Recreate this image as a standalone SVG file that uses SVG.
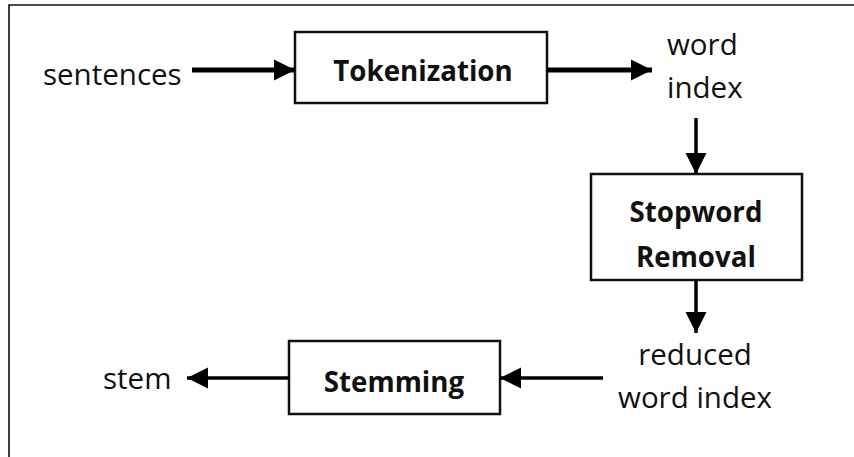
<svg xmlns="http://www.w3.org/2000/svg" width="854" height="457" viewBox="0 0 854 457">
<defs>
<style>
.box{fill:#fff;stroke:#111;stroke-width:2.5}
.lbl{font-family:"Open Sans","Liberation Sans",sans-serif;font-size:29.5px;fill:#111}
.bold{font-family:"Open Sans","Liberation Sans",sans-serif;font-size:27.7px;font-weight:bold;fill:#111}
.thick{stroke:#000;stroke-width:5;fill:none}
.thin{stroke:#000;stroke-width:3.5;fill:none}
</style>
<marker id="ah" viewBox="0 0 10 10" refX="10" refY="5" markerUnits="userSpaceOnUse" markerWidth="21" markerHeight="22" orient="auto">
<path d="M0,0 L10,5 L0,10 Z" fill="#000"/>
</marker>
</defs>
<rect width="854" height="457" fill="#fff"/>
<path d="M9,457 V5 H854" fill="none" stroke="#111" stroke-width="1.6"/>
<g id="sentences"><text class="lbl" x="43" y="85">sentences</text></g>
<g id="tokenization"><rect class="box" x="295" y="32" width="252" height="71"/><text class="bold" x="423" y="81" text-anchor="middle">Tokenization</text></g>
<g id="wordindex"><text class="lbl" x="667" y="55">word</text><text class="lbl" x="667" y="98">index</text></g>
<g id="stopword"><rect class="box" x="591" y="174" width="211" height="106"/><text class="bold" x="696" y="222" text-anchor="middle">Stopword</text><text class="bold" x="696" y="267" text-anchor="middle">Removal</text></g>
<g id="reduced"><text class="lbl" x="695" y="365" text-anchor="middle">reduced</text><text class="lbl" x="695" y="408" text-anchor="middle">word index</text></g>
<g id="stemming"><rect class="box" x="289" y="341" width="211" height="73"/><text class="bold" x="394" y="392" text-anchor="middle">Stemming</text></g>
<g id="stem"><text class="lbl" x="103" y="389">stem</text></g>
<g id="connectors">
<line class="thick" x1="192" y1="70" x2="295" y2="70" marker-end="url(#ah)"/>
<line class="thick" x1="547" y1="70" x2="652" y2="70" marker-end="url(#ah)"/>
<line class="thin" x1="696" y1="118" x2="696" y2="174" marker-end="url(#ah)"/>
<line class="thin" x1="696" y1="280" x2="696" y2="333" marker-end="url(#ah)"/>
<line class="thin" x1="603" y1="378" x2="500" y2="378" marker-end="url(#ah)"/>
<line class="thin" x1="289" y1="378" x2="187" y2="378" marker-end="url(#ah)"/>
</g>
</svg>
